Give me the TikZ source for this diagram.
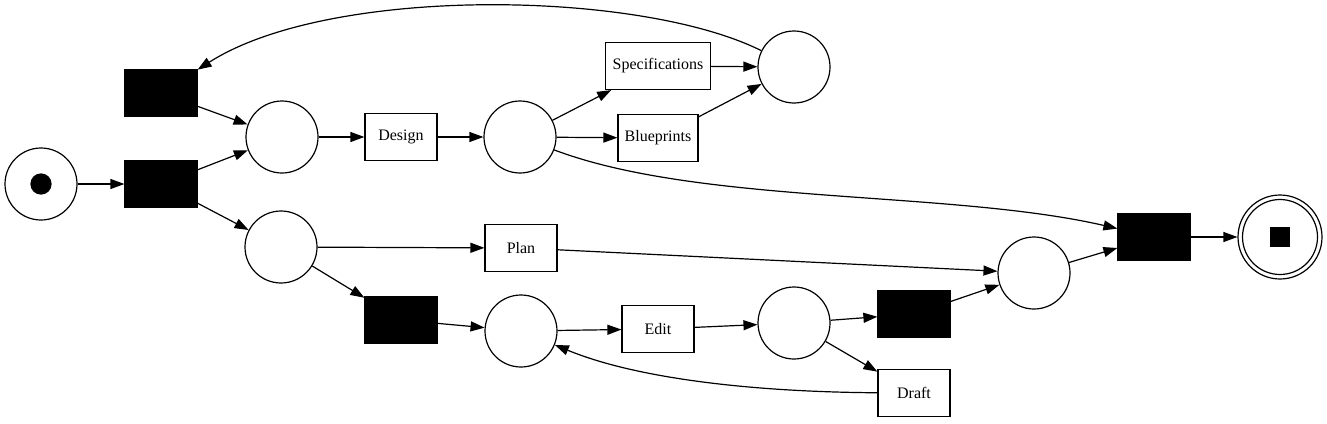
\documentclass[tikz,border=0pt]{standalone}
\usepackage{fontspec}
\setmainfont{Liberation Serif}
\usetikzlibrary{arrows.meta}

\begin{document}
\begin{tikzpicture}[x=1pt,y=-1pt]
	\tikzstyle{every node}=[draw,line width=1.2pt,font=\fontsize{16}{19}\selectfont]
	\tikzstyle{place}=[circle,minimum size=72pt,inner sep=0pt]
	\tikzstyle{trans}=[rectangle,minimum width=72pt,minimum height=47pt,inner sep=2pt]
	\tikzstyle{silent}=[trans,fill=black]
	\tikzstyle{arc}=[-{Triangle[length=14pt,width=10pt]},line width=1.2pt]
	\useasboundingbox (0,0) rectangle (1327,423);
	% places
	\node[place] (start) at (41,184) {};
	\node[place] (p1) at (282,137) {};
	\node[place] (p2) at (281,247) {};
	\node[place] (p3) at (520,137) {};
	\node[place] (p4) at (794,67) {};
	\node[place] (p5) at (521,331) {};
	\node[place] (p6) at (794,323) {};
	\node[place] (p7) at (1034,273) {};
	\node[place,minimum size=84pt] (end) at (1280,237) {};
	\node[circle,minimum size=75pt,inner sep=0pt] (endin) at (end) {};
	\node[circle,fill=black,minimum size=20pt,inner sep=0pt] (token) at (start) {};
	\node[rectangle,fill=black,minimum size=19pt,inner sep=0pt] (stop) at (end) {};
	% transitions
	\node[silent] (t1) at (161,93) {};
	\node[silent] (t2) at (161,184) {};
	\node[silent] (t3) at (401,320) {};
	\node[silent] (t4) at (914,314) {};
	\node[silent] (t5) at (1154,237) {};
	\node[trans] (design) at (401,137) {Design};
	\node[trans,minimum width=105pt] (spec) at (658,66) {Specifications};
	\node[trans,minimum width=80pt] (blue) at (658,138) {Blueprints};
	\node[trans] (plan) at (521,248) {Plan};
	\node[trans] (edit) at (658,329) {Edit};
	\node[trans] (draft) at (914,393) {Draft};
	% arcs
	\draw[arc] (start) -- (t2);
	\draw[arc] (t1) -- (p1);
	\draw[arc] (t2) -- (p1);
	\draw[arc] (t2) -- (p2);
	\draw[arc] (p1) -- (design);
	\draw[arc] (design) -- (p3);
	\draw[arc] (p3) -- (spec);
	\draw[arc] (p3) -- (blue);
	\draw[arc] (spec) -- (p4);
	\draw[arc] (blue) -- (p4);
	\draw[arc] (p4) .. controls (640,-10) and (330,-15) .. (t1);
	\draw[arc] (p3) .. controls (700,205) and (950,190) .. (t5);
	\draw[arc] (p2) -- (plan);
	\draw[arc] (p2) -- (t3);
	\draw[arc] (plan) -- (p7);
	\draw[arc] (t3) -- (p5);
	\draw[arc] (p5) -- (edit);
	\draw[arc] (edit) -- (p6);
	\draw[arc] (p6) -- (t4);
	\draw[arc] (p6) -- (draft);
	\draw[arc] (draft) .. controls (760,392) and (640,380) .. (p5);
	\draw[arc] (t4) -- (p7);
	\draw[arc] (p7) -- (t5);
	\draw[arc] (t5) -- (end);
\end{tikzpicture}
\end{document}
